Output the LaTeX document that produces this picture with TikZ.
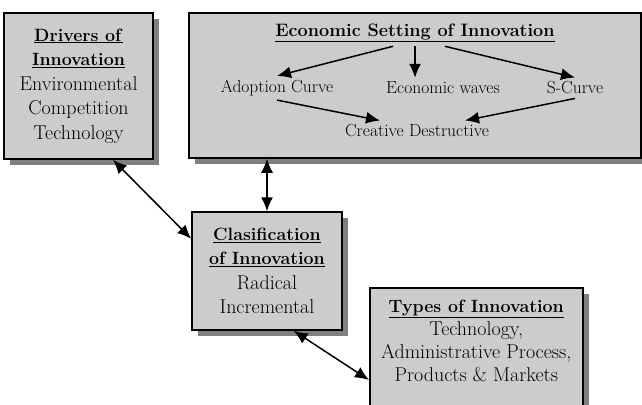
\documentclass[tikz,border=0pt]{standalone}
\usetikzlibrary{arrows.meta,shadows}
\tikzset{
  infobox/.style={draw=black, line width=1.5pt, fill=black!20, align=center, inner sep=0pt,
    drop shadow={shadow xshift=6pt, shadow yshift=-6pt, fill=black!50, opacity=1},
    font=\fontsize{20}{24.5}\selectfont},
  item/.style={font=\fontsize{17.5}{20}\selectfont, inner sep=4pt},
  flow/.style={line width=1.5pt, -{Latex[length=14pt,width=12pt]}},
  link/.style={line width=1.5pt, {Latex[length=14pt,width=12pt]}-{Latex[length=14pt,width=12pt]}}
}
\newcommand{\heading}[1]{{\fontsize{17.8}{24.5}\selectfont\underline{\textbf{#1}}}}
\begin{document}
\begin{tikzpicture}[x=1pt,y=-1pt]
        \useasboundingbox (0,0) rectangle (642,404);
        %% outer boxes
        \node[infobox, minimum width=149pt, minimum height=146pt] (drivers) at (78.5,86)
            {\heading{Drivers of}\\\heading{Innovation}\\Environmental\\Competition\\Technology};
        \node[infobox, minimum width=452pt, minimum height=145pt] (econ) at (415,85.5) {};
        \node[infobox, minimum width=150pt, minimum height=118pt] (class) at (267,271)
            {\heading{Clasification}\\\heading{of Innovation}\\Radical\\Incremental};
        \node[infobox, anchor=north west, inner ysep=12pt] (types) at (369,287)
            {\parbox[c][140pt][t]{213pt}{\centering\fontsize{20}{23}\selectfont
              \heading{Types of Innovation}\\Technology,\\Administrative Process,\\Products \& Markets}};
        %% inside the economic setting
        \node[font=\fontsize{18}{20}\selectfont, inner sep=4pt] (title) at (415,33)
            {\underline{\textbf{Economic Setting of Innovation}}};
        \node[item] (adopt) at (277,88) {Adoption Curve};
        \node[item] (waves) at (443,88) {Economic waves};
        \node[item] (scurve) at (575,88) {S-Curve};
        \node[item] (creative) at (417,131) {Creative Destructive};
        \draw[flow] ([xshift=-22pt]title.south) -- (adopt.north);
        \draw[flow] (title.south) -- (title.south |- waves.north);
        \draw[flow] ([xshift=30pt]title.south) -- (scurve.north);
        \draw[flow] (adopt.south) -- ([xshift=-37pt]creative.north);
        \draw[flow] (scurve.south) -- ([xshift=48pt]creative.north);
        %% links between boxes
        \draw[link] (drivers.-65) -- (class.157);
        \draw[link] (econ.south -| class.north) -- (class.north);
        \draw[link] (class.-66) -- ([yshift=-93pt]types.north west);
\end{tikzpicture}
\end{document}
